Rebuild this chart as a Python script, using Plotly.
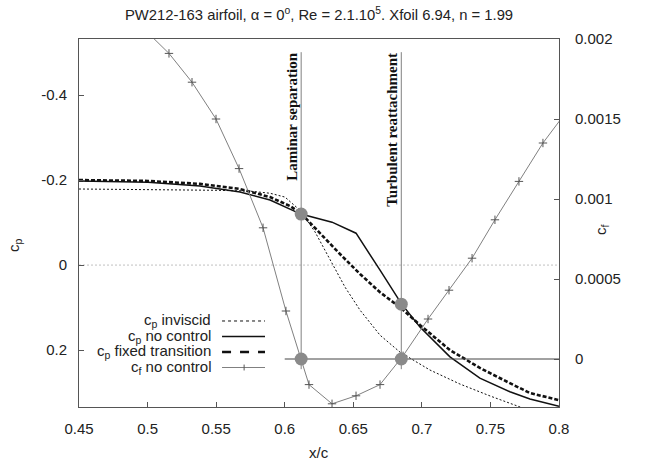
import plotly.graph_objects as go

# ---- data ----
x_cf = [0.4989, 0.5156, 0.5324, 0.5499, 0.5667, 0.5842, 0.6009, 0.6177, 0.6345, 0.6520,
        0.6695, 0.6863, 0.7045, 0.7198, 0.7366, 0.7533, 0.7708, 0.7883, 0.8058]
cf_no_control = [0.00205, 0.00191, 0.00173, 0.00150, 0.00119, 0.00082, 0.00030, -0.00016,
                 -0.00028, -0.00023, -0.00016, 0.00002, 0.00025, 0.00043, 0.00063, 0.00087,
                 0.00111, 0.00135, 0.00155]

x_inv = [0.45, 0.5003, 0.5499, 0.5747, 0.5893, 0.6002, 0.6111, 0.6221, 0.6330, 0.6440,
         0.6549, 0.6695, 0.6841, 0.7059, 0.7278, 0.7497, 0.7716, 0.7862]
cp_inviscid = [-0.179, -0.178, -0.176, -0.174, -0.169, -0.160, -0.129, -0.078, -0.012, 0.052,
               0.106, 0.165, 0.205, 0.247, 0.280, 0.308, 0.334, 0.351]

x_nc = [0.45, 0.5003, 0.5382, 0.5674, 0.5893, 0.6038, 0.6118, 0.6345, 0.6520, 0.6695,
        0.6847, 0.6986, 0.7205, 0.7423, 0.7642, 0.7788, 0.80]
cp_no_control = [-0.198, -0.195, -0.186, -0.172, -0.153, -0.132, -0.120, -0.101, -0.075, 0.012,
                 0.089, 0.146, 0.216, 0.266, 0.298, 0.315, 0.332]

x_ft = [0.45, 0.5003, 0.5382, 0.5674, 0.5893, 0.6038, 0.6118, 0.6257, 0.6403, 0.6549,
        0.6695, 0.6847, 0.6986, 0.7205, 0.7423, 0.7642, 0.7788, 0.80]
cp_fixed_transition = [-0.200, -0.198, -0.191, -0.179, -0.160, -0.139, -0.122, -0.075, -0.026,
                       0.021, 0.064, 0.101, 0.141, 0.200, 0.242, 0.278, 0.301, 0.318]

event_x = [0.612, 0.685]              # laminar separation, turbulent reattachment
event_cp = [-0.120, 0.092]            # cp (no control) at those stations
event_labels = ["Laminar separation", "Turbulent reattachment"]
event_line_cp = [-0.501, 0.245]       # extent of the vertical marker lines (cp units)
cf_zero_x = [0.60, 0.80]
cf_zero_y = [0.0, 0.0]

x_ticks = [0.45, 0.5, 0.55, 0.6, 0.65, 0.7, 0.75, 0.8]
x_ticktext = ["0.45", "0.5", "0.55", "0.6", "0.65", "0.7", "0.75", "0.8"]
cp_ticks = [-0.4, -0.2, 0, 0.2]
cp_ticktext = ["-0.4", "-0.2", "0", "0.2"]
cf_ticks = [0, 0.0005, 0.001, 0.0015, 0.002]
cf_ticktext = ["0", "0.0005", "0.001", "0.0015", "0.002"]

FONT = "Liberation Sans, Arial, sans-serif"
SERIF = "Liberation Serif, Times New Roman, serif"
GRAY = "#808080"

fig = go.Figure()

# zero line of cp (dotted light gray)
fig.add_trace(go.Scatter(x=[0.45, 0.8], y=[0, 0], mode="lines",
                         line=dict(color="#c0c0c0", width=1, dash="2px,2px"),
                         showlegend=False, hoverinfo="skip"))

# vertical event lines
for xe in event_x:
    fig.add_trace(go.Scatter(x=[xe, xe], y=event_line_cp, mode="lines",
                             line=dict(color=GRAY, width=1), showlegend=False, hoverinfo="skip"))

# cf = 0 reference line
fig.add_trace(go.Scatter(x=cf_zero_x, y=cf_zero_y, yaxis="y2", mode="lines",
                         line=dict(color="#444444", width=1), showlegend=False, hoverinfo="skip"))

fig.add_trace(go.Scatter(x=x_inv, y=cp_inviscid, mode="lines", name="cp inviscid",
                         line=dict(color="#111111", width=1, dash="2px,2px"), showlegend=False))
fig.add_trace(go.Scatter(x=x_nc, y=cp_no_control, mode="lines", name="cp no control",
                         line=dict(color="#111111", width=1.5), showlegend=False))
fig.add_trace(go.Scatter(x=x_ft, y=cp_fixed_transition, mode="lines", name="cp fixed transition",
                         line=dict(color="#111111", width=2.6, dash="4px,2px"), showlegend=False))
fig.add_trace(go.Scatter(x=x_cf, y=cf_no_control, yaxis="y2", mode="lines+markers",
                         name="cf no control",
                         line=dict(color=GRAY, width=1),
                         marker=dict(symbol="cross-thin", size=6, line=dict(color="#555555", width=1)),
                         cliponaxis=True, showlegend=False))

# gray circles at events
fig.add_trace(go.Scatter(x=event_x, y=event_cp, mode="markers",
                         marker=dict(size=13, color="#8a8a8a"), showlegend=False, hoverinfo="skip"))
fig.add_trace(go.Scatter(x=event_x, y=[0, 0], yaxis="y2", mode="markers",
                         marker=dict(size=13, color="#8a8a8a"), showlegend=False, hoverinfo="skip"))

annotations = []
for xe, lab in zip(event_x, event_labels):
    annotations.append(dict(x=xe, y=-0.505, xref="x", yref="y", text="<b>" + lab + "</b>",
                            textangle=-90,
                            showarrow=False, xanchor="center", yanchor="top", xshift=-9,
                            font=dict(family=SERIF, size=15, color="#111111")))

# axis titles
annotations.append(dict(x=-0.1354, y=0.44, xref="paper", yref="paper", text="c<sub>p</sub>",
                        textangle=-90, showarrow=False, xanchor="center", yanchor="middle",
                        font=dict(family=FONT, size=15, color="#222222")))
annotations.append(dict(x=1.0896, y=0.481, xref="paper", yref="paper", text="c<sub>f</sub>",
                        textangle=-90, showarrow=False, xanchor="center", yanchor="middle",
                        font=dict(family=FONT, size=15, color="#222222")))
annotations.append(dict(x=0.5, y=-0.1223, xref="paper", yref="paper", text="x/c",
                        showarrow=False, xanchor="center", yanchor="middle",
                        font=dict(family=FONT, size=15, color="#222222")))

# manual legend (gnuplot style: text then sample)
leg_items = [("c<sub>p</sub> inviscid", dict(color="#111111", width=1, dash="dot")),
             ("c<sub>p</sub> no control", dict(color="#111111", width=1.5)),
             ("c<sub>p</sub> fixed transition", dict(color="#111111", width=2.6, dash="dash")),
             ("c<sub>f</sub> no control", dict(color=GRAY, width=1))]
leg_y = [0.2337, 0.1916, 0.1495, 0.1073]
shapes = []
for (txt, ln), yy in zip(leg_items, leg_y):
    annotations.append(dict(x=0.279, y=yy, xref="paper", yref="paper", text=txt,
                            showarrow=False, xanchor="right", yanchor="middle",
                            font=dict(family=FONT, size=15, color="#222222")))
    shapes.append(dict(type="line", xref="paper", yref="paper", x0=0.298, x1=0.3875,
                       y0=yy, y1=yy, line=ln))
shapes.append(dict(type="line", xref="paper", yref="paper", x0=0.344, x1=0.344,
                   y0=leg_y[3] - 0.008, y1=leg_y[3] + 0.008,
                   line=dict(color="#555555", width=1)))

fig.update_layout(
    width=662, height=465,
    margin=dict(l=79, r=103, t=39, b=58, autoexpand=False),
    paper_bgcolor="white", plot_bgcolor="white",
    font=dict(family=FONT, size=15, color="#222222"),
    title=dict(text="PW212-163 airfoil, α = 0<sup>o</sup>, Re = 2.1.10<sup>5</sup>. Xfoil 6.94, n = 1.99",
               x=0.5, xref="paper", y=0.968, yref="container", yanchor="middle", xanchor="center",
               font=dict(family=FONT, size=14.8, color="#222222")),
    xaxis=dict(range=[0.45, 0.8], tickvals=x_ticks, ticktext=x_ticktext,
               ticks="inside", ticklen=5, tickcolor="#555555",
               showline=True, linecolor="#555555", linewidth=1, mirror=True,
               showgrid=False, zeroline=False, ticklabelstandoff=8, automargin=False),
    yaxis=dict(range=[0.334, -0.532], tickvals=cp_ticks, ticktext=cp_ticktext,
               ticks="inside", ticklen=5, tickcolor="#555555",
               showline=True, linecolor="#555555", linewidth=1, mirror=True,
               showgrid=False, zeroline=False, ticklabelstandoff=8, automargin=False),
    yaxis2=dict(range=[-0.0003, 0.002], tickvals=cf_ticks, ticktext=cf_ticktext,
                overlaying="y", side="right",
                ticks="inside", ticklen=5, tickcolor="#555555",
                showline=True, linecolor="#555555", linewidth=1,
                showgrid=False, zeroline=False, ticklabelstandoff=12, automargin=False),
    annotations=annotations,
    shapes=shapes,
    showlegend=False,
)

# remove the page's default 8 px body margin so the figure sits at the window origin
fig.write_html("out.html",
               config={"displayModeBar": False},
               post_script="document.body.style.margin='0';document.body.style.padding='0';")
